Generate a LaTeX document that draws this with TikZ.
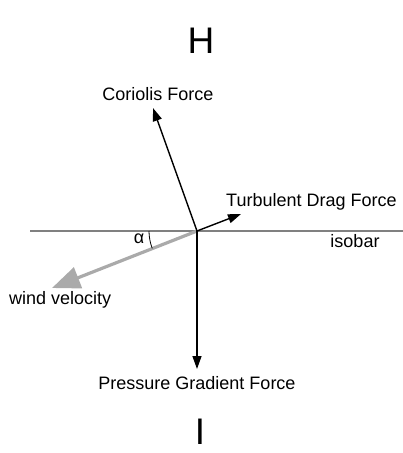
\documentclass[tikz,border=0pt]{standalone}
\usepackage{fontspec}
\setmainfont{Liberation Sans}
\usetikzlibrary{arrows.meta}
\begin{document}
\begin{tikzpicture}[x=1pt,y=-1pt,
  lbl/.style={font=\fontsize{18}{20}\selectfont, inner sep=0pt},
  big/.style={font=\fontsize{37}{40}\selectfont, inner sep=0pt},
  force/.style={line width=1.4pt, -{Triangle[length=13pt,width=9pt]}},
  wind/.style={line width=3.2pt, draw={rgb,255:red,170;green,170;blue,170}, -{Triangle[length=28pt,width=22pt]}},
  isobarline/.style={line width=1.3pt, draw={rgb,255:red,128;green,128;blue,128}}]
\useasboundingbox (0,0) rectangle (403,453);
\coordinate (O) at (197,231);
\coordinate (isoL) at (30,231);
\coordinate (isoR) at (403,231);
\coordinate (cor) at (153,108);
\coordinate (turb) at (241,214);
\coordinate (pres) at (197,369);
\coordinate (wv) at (52,288);
\draw[isobarline] (isoL) -- (isoR);
\draw[wind] (O) -- (wv);
\draw[force] (O) -- (cor);
\draw[force] (O) -- (turb);
\draw[force] (O) -- (pres);
\draw[line width=0.8pt] ([shift={(180:48)}]O) arc[start angle=180, end angle=158.8, radius=48];
\node[lbl] (alpha) at (139,239) {α};
\node[lbl] (corl) at (158,94) {Coriolis Force};
\node[lbl, anchor=west] (turbl) at (226,202) {Turbulent Drag Force};
\node[lbl] (isol) at (355,241) {isobar};
\node[lbl, anchor=west] (wvl) at (9,300) {wind velocity};
\node[lbl] (presl) at (197,383) {Pressure Gradient Force};
\node[big] (H) at (201,41) {H};
\node[big] (I) at (200,432) {I};
\end{tikzpicture}
\end{document}
